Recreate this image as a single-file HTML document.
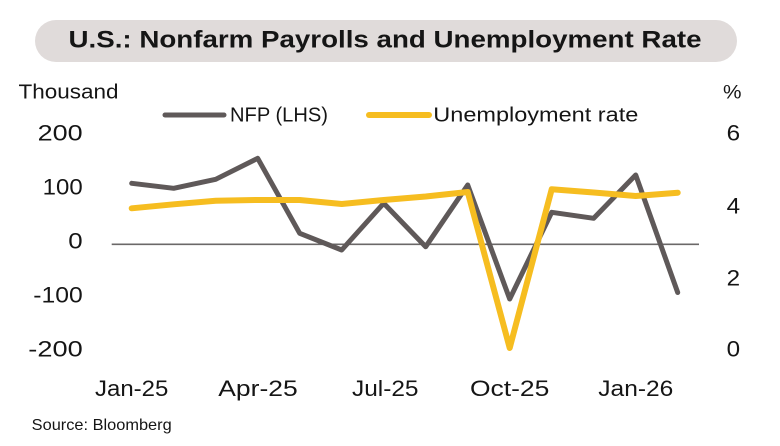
<!DOCTYPE html>
<html>
<head>
<meta charset="utf-8">
<style>
  html, body { margin: 0; padding: 0; background: #ffffff; }
  body { width: 780px; height: 446px; overflow: hidden; }
  svg { display: block; }
  text { font-family: "Liberation Sans", sans-serif; fill: #151515; }
</style>
</head>
<body>
<svg width="780" height="446" viewBox="0 0 780 446" xmlns="http://www.w3.org/2000/svg">
  <!-- Title pill -->
  <rect x="35" y="20" width="702" height="42" rx="21" ry="21" fill="#e0dbda"/>
  <text x="68.5" y="47.5" font-size="24" font-weight="bold" textLength="633" lengthAdjust="spacingAndGlyphs" fill="#0d0d0d">U.S.: Nonfarm Payrolls and Unemployment Rate</text>

  <!-- Axis titles -->
  <text x="18.5" y="98.3" font-size="20" textLength="100" lengthAdjust="spacingAndGlyphs">Thousand</text>
  <text x="723" y="98.3" font-size="19" textLength="18.5" lengthAdjust="spacingAndGlyphs">%</text>

  <!-- Legend -->
  <line x1="165" y1="115" x2="224" y2="115" stroke="#5f5959" stroke-width="5" stroke-linecap="round"/>
  <text x="230" y="121.7" font-size="20" textLength="98" lengthAdjust="spacingAndGlyphs">NFP (LHS)</text>
  <line x1="369" y1="115" x2="429" y2="115" stroke="#f6bd20" stroke-width="6" stroke-linecap="round"/>
  <text x="433.3" y="121.7" font-size="20" textLength="205" lengthAdjust="spacingAndGlyphs">Unemployment rate</text>

  <!-- Left axis labels -->
  <text x="37.7" y="140.3" font-size="22" textLength="45" lengthAdjust="spacingAndGlyphs">200</text>
  <text x="42.7" y="194.5" font-size="22" textLength="40" lengthAdjust="spacingAndGlyphs">100</text>
  <text x="68.3" y="248.5" font-size="22" textLength="14.4" lengthAdjust="spacingAndGlyphs">0</text>
  <text x="33.3" y="302.5" font-size="22" textLength="49.4" lengthAdjust="spacingAndGlyphs">-100</text>
  <text x="28.3" y="356.5" font-size="22" textLength="54.4" lengthAdjust="spacingAndGlyphs">-200</text>

  <!-- Right axis labels -->
  <text x="726.7" y="140.3" font-size="22" textLength="13.5" lengthAdjust="spacingAndGlyphs">6</text>
  <text x="726.7" y="213.3" font-size="22" textLength="13.5" lengthAdjust="spacingAndGlyphs">4</text>
  <text x="726.7" y="285.6" font-size="22" textLength="13.5" lengthAdjust="spacingAndGlyphs">2</text>
  <text x="726.7" y="356.6" font-size="22" textLength="13.5" lengthAdjust="spacingAndGlyphs">0</text>

  <!-- Zero line -->
  <line x1="111.7" y1="244.3" x2="699" y2="244.3" stroke="#6b6868" stroke-width="1.6"/>

  <!-- NFP series -->
  <polyline fill="none" stroke="#5f5959" stroke-width="5" stroke-linecap="round" stroke-linejoin="round"
    points="131.7,183.3 173.7,188.3 215.7,179.3 257.7,158.3 299.7,233.3 341.7,250 383.7,203.3 425.7,246.7 467.7,185 509.7,299 551.7,212.3 593.7,218.3 635.7,175 677.7,292.5"/>

  <!-- Unemployment series -->
  <polyline fill="none" stroke="#f6bd20" stroke-width="6" stroke-linecap="round" stroke-linejoin="round"
    points="131.7,208.3 173.7,204.3 215.7,200.7 257.7,200 299.7,200 341.7,204 383.7,200 425.7,196.5 467.7,192 509.7,348 551.7,189.3 593.7,192.5 635.7,196 677.7,192.7"/>

  <!-- X axis labels -->
  <text x="95" y="396" font-size="22" textLength="73.3" lengthAdjust="spacingAndGlyphs">Jan-25</text>
  <text x="218.3" y="396" font-size="22" textLength="79.4" lengthAdjust="spacingAndGlyphs">Apr-25</text>
  <text x="352" y="396" font-size="22" textLength="66.5" lengthAdjust="spacingAndGlyphs">Jul-25</text>
  <text x="470" y="396" font-size="22" textLength="79.3" lengthAdjust="spacingAndGlyphs">Oct-25</text>
  <text x="598.3" y="396" font-size="22" textLength="75" lengthAdjust="spacingAndGlyphs">Jan-26</text>

  <!-- Source -->
  <text x="31.7" y="430" font-size="16" textLength="140" lengthAdjust="spacingAndGlyphs">Source: Bloomberg</text>
</svg>
</body>
</html>
